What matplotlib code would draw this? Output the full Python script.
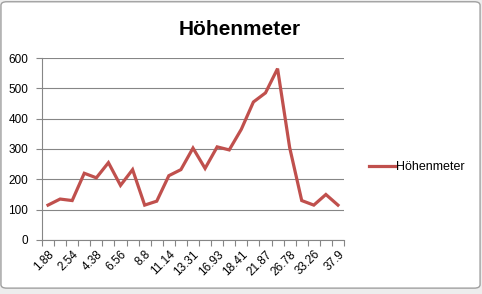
import matplotlib.pyplot as plt
from matplotlib.patches import FancyBboxPatch, Rectangle

# values (one per category, 25 categories)
hoehe = [115, 135, 130, 220, 205, 255, 180, 232, 115, 128, 212, 232, 303,
         236, 307, 297, 365, 455, 485, 565, 305, 130, 115, 150, 115]
# only every second category label is shown
shown_labels = ['1.88', '2.54', '4.38', '6.56', '8.8', '11.14', '13.31',
                '16.93', '18.41', '21.87', '26.78', '33.26', '37.9']
y_ticks = [0, 100, 200, 300, 400, 500, 600]

line_col = '#C0504D'
grey = '#868686'

plt.rcParams['font.family'] = ['Liberation Sans', 'DejaVu Sans']

fig = plt.figure(figsize=(4.82, 2.94), dpi=100)
fig.patch.set_facecolor('white')

# spreadsheet background below the chart and chart frame
fig.patches.append(Rectangle((0, 0), 1, 1, transform=fig.transFigure,
                             facecolor='#EDEDED', edgecolor='none', zorder=-3))
fig.patches.append(FancyBboxPatch((0.002, 0.02), 0.994, 0.974,
                                  boxstyle='round,pad=0,rounding_size=0.012',
                                  transform=fig.transFigure, facecolor='white',
                                  edgecolor='#A0A0A0', linewidth=1.0, zorder=-2))

ax = fig.add_axes([0.0871, 0.1837, 0.6266, 0.619])
ax.set_facecolor('none')

x = list(range(len(hoehe)))
ax.plot(x, hoehe, color=line_col, linewidth=2.3, label='Höhenmeter',
        solid_joinstyle='miter')

ax.set_xlim(-0.5, len(hoehe) - 0.5)
ax.set_ylim(0, 600)
ax.set_yticks(y_ticks)
ax.yaxis.grid(True, color=grey, linewidth=0.8)
ax.set_axisbelow(True)

# tick marks on category boundaries, labels at every second category
ax.set_xticks([i - 0.5 for i in range(len(hoehe) + 1)])
ax.set_xticklabels([])
ax.set_xticks(list(range(0, len(hoehe), 2)), minor=True)
ax.set_xticklabels(shown_labels, minor=True, rotation=45, ha='right',
                   va='top', rotation_mode='anchor', fontsize=8.5)
ax.tick_params(axis='x', which='major', length=4, color=grey, width=0.8)
ax.tick_params(axis='x', which='minor', length=0, pad=6)
ax.tick_params(axis='y', length=4, color=grey, width=0.8, labelsize=8.5, pad=6)

for s in ['top', 'right']:
    ax.spines[s].set_visible(False)
for s in ['left', 'bottom']:
    ax.spines[s].set_color(grey)
    ax.spines[s].set_linewidth(0.8)

fig.text(0.498, 0.9, 'Höhenmeter', ha='center', va='center',
         fontsize=15, fontweight='bold')

ax.legend(loc='center left', bbox_to_anchor=(1.045, 0.40), frameon=False,
          fontsize=9, handlelength=2.2, handletextpad=0.0)

fig.savefig('out.png', dpi=100)
